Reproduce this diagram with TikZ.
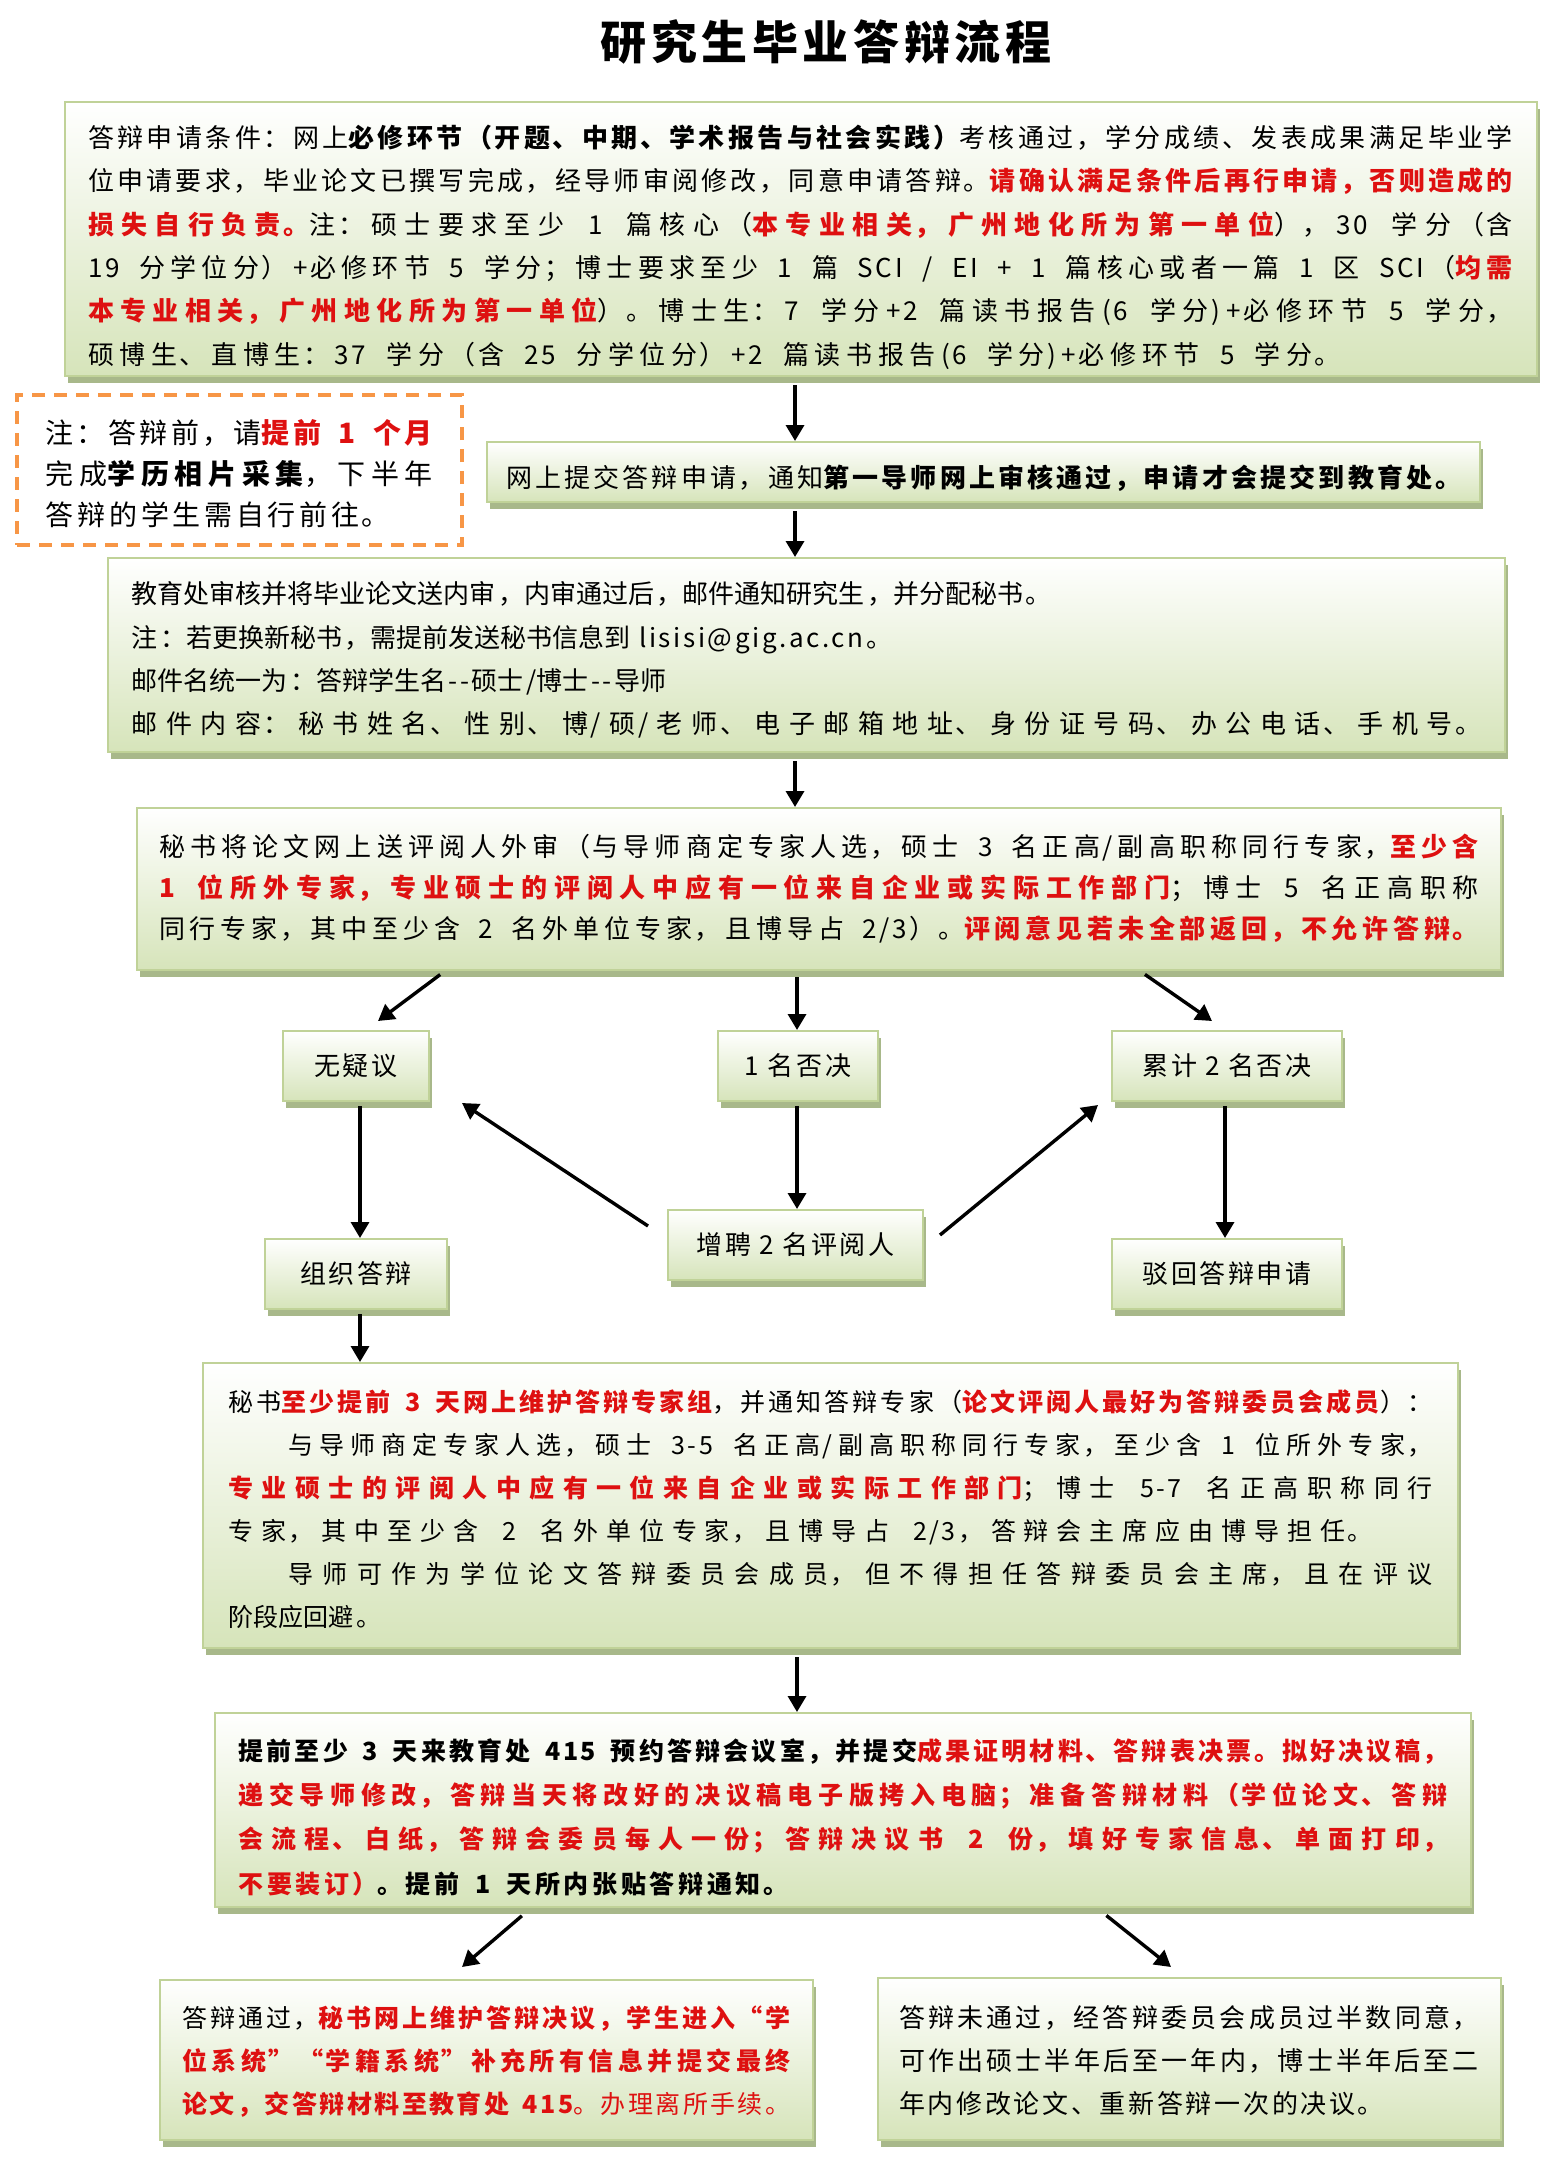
\documentclass[tikz,border=0pt]{standalone}
\usepackage{fontspec}
\setmainfont{Noto Sans CJK SC}[LetterSpace=10]
\usetikzlibrary{arrows.meta,shadows}
\XeTeXlinebreaklocale "zh"
\XeTeXlinebreakskip=0pt plus 1pt
\definecolor{boxgreen}{RGB}{214,228,186}
\definecolor{boxline}{RGB}{192,210,152}
\definecolor{shadowgreen}{RGB}{168,184,138}
\definecolor{myred}{RGB}{222,16,16}
\definecolor{dashorange}{RGB}{247,150,70}
\newcommand\rdb[1]{\textcolor{myred}{\bfseries #1}}
\newcommand\bkb[1]{{\bfseries #1}}
\newcommand\fulljust{\parfillskip=0pt\par}
\begin{document}
\begin{tikzpicture}[x=0.5pt,y=-0.5pt,
  gbox/.style={draw=boxline, line width=1pt, top color=white, bottom color=boxgreen,
    general shadow={fill=shadowgreen, shadow xshift=1.5pt, shadow yshift=-3.5pt},
    inner sep=0pt},
  txt/.style={inner sep=0pt, align=justify},
  sbox/.style={gbox, align=center, minimum height=35pt, font=\fontsize{13pt}{16pt}\selectfont},
  arr/.style={line width=1.7pt, -{Triangle[length=8pt,width=9pt]}}]
\useasboundingbox (0,0) rectangle (1564,2183);

\node[font=\fontsize{23pt}{28pt}\selectfont\bfseries] (title) at (826,42) {研究生毕业答辩流程};

% ---------- box 1
\node[gbox, minimum width=736pt, minimum height=137pt] (b1) at (800.5,239) {};
\node[txt, text width=712.5pt, font=\fontsize{13pt}{21.65pt}\selectfont] (b1t) at (800.5,247) {%
答辩申请条件：网上\bkb{必修环节（开题、中期、学术报告与社会实践）}考核通过，学分成绩、发表成果满足毕业学\linebreak
位申请要求，毕业论文已撰写完成，经导师审阅修改，同意申请答辩。\rdb{请确认满足条件后再行申请，否则造成的}\linebreak
\rdb{损失自行负责。}注：硕士要求至少 1 篇核心（\rdb{本专业相关，广州地化所为第一单位}），30 学分（含\linebreak
19 分学位分）+必修环节 5 学分；博士要求至少 1 篇 SCI / EI + 1 篇核心或者一篇 1 区 SCI（\rdb{均需}\linebreak
\rdb{本专业相关，广州地化所为第一单位}）。博士生：7 学分+2 篇读书报告(6 学分)+必修环节 5 学分，\linebreak
硕博生、直博生：37 学分（含 25 分学位分）+2 篇读书报告(6 学分)+必修环节 5 学分。\hspace*{86pt}\fulljust};

% ---------- note
\node[draw=dashorange, line width=2pt, dash pattern=on 6.5pt off 4.5pt, fill=white,
  minimum width=222.5pt, minimum height=75pt] (note) at (239.5,470) {};
\node[txt, text width=193.5pt, font=\fontsize{14pt}{20.5pt}\selectfont] (notet) at (239.5,474) {%
注：答辩前，请\rdb{提前 1 个月}\linebreak
完成\bkb{学历相片采集}，下半年\linebreak
答辩的学生需自行前往。\hspace*{21.5pt}\fulljust};

% ---------- box 2
\node[gbox, minimum width=496.5pt, minimum height=30pt] (b2) at (983.5,472) {};
\node[txt, text width=477.5pt, font=\fontsize{13pt}{16pt}\selectfont] (b2t) at (983.5,478) {%
网上提交答辩申请，通知\bkb{第一导师网上审核通过，申请才会提交到教育处。}\fulljust};

% ---------- box 3
\node[gbox, minimum width=698.5pt, minimum height=97pt] (b3) at (806.5,655) {};
\node[txt, text width=675pt, font=\fontsize{13pt}{21.65pt}\selectfont] (b3t) at (806.5,660) {%
教育处审核并将毕业论文送内审，内审通过后，邮件通知研究生，并分配秘书。\hspace*{\fill}\linebreak
注：若更换新秘书，需提前发送秘书信息到 lisisi@gig.ac.cn。\hspace*{\fill}\linebreak
邮件名统一为：答辩学生名{-}{-}硕士/博士{-}{-}导师\hspace*{\fill}\linebreak
邮件内容：秘书姓名、性别、博/硕/老师、电子邮箱地址、身份证号码、办公电话、手机号。\fulljust};

% ---------- box 4
\node[gbox, minimum width=682pt, minimum height=81pt] (b4) at (819,889) {};
\node[txt, text width=660pt, font=\fontsize{13pt}{20.5pt}\selectfont] (b4t) at (819,889) {%
秘书将论文网上送评阅人外审（与导师商定专家人选，硕士 3 名正高/副高职称同行专家，\rdb{至少含}\linebreak
\rdb{1 位所外专家，专业硕士的评阅人中应有一位来自企业或实际工作部门}；博士 5 名正高职称\linebreak
同行专家，其中至少含 2 名外单位专家，且博导占 2/3）。\rdb{评阅意见若未全部返回，不允许答辩。}\fulljust};

% ---------- small boxes
\node[sbox, minimum width=73pt] (n1) at (356,1066) {无疑议};
\node[sbox, minimum width=80pt] (n2) at (798,1066) {1 名否决};
\node[sbox, minimum width=115pt] (n3) at (1227,1066) {累计 2 名否决};
\node[sbox, minimum width=91pt] (n4) at (356,1274) {组织答辩};
\node[sbox, minimum width=127.5pt] (n5) at (795.5,1245) {增聘 2 名评阅人};
\node[sbox, minimum width=115pt] (n6) at (1227,1274) {驳回答辩申请};

% ---------- box 5
\node[gbox, minimum width=627.5pt, minimum height=142.5pt] (b5) at (830.5,1505.5) {};
\node[txt, text width=602pt, font=\fontsize{12.5pt}{21.5pt}\selectfont] (b5t) at (830.5,1509.5) {%
秘书\rdb{至少提前 3 天网上维护答辩专家组}，并通知答辩专家（\rdb{论文评阅人最好为答辩委员会成员}）：\linebreak
\hspace*{30pt}与导师商定专家人选，硕士 3-5 名正高/副高职称同行专家，至少含 1 位所外专家，\linebreak
\rdb{专业硕士的评阅人中应有一位来自企业或实际工作部门}；博士 5-7 名正高职称同行\linebreak
专家，其中至少含 2 名外单位专家，且博导占 2/3，答辩会主席应由博导担任。\hspace*{30pt}\linebreak
\hspace*{30pt}导师可作为学位论文答辩委员会成员，但不得担任答辩委员会主席，且在评议\linebreak
阶段应回避。};

% ---------- box 6
\node[gbox, minimum width=628pt, minimum height=97pt] (b6) at (843,1810) {};
\node[txt, text width=604.5pt, font=\fontsize{12.5pt}{22.2pt}\selectfont\bfseries] (b6t) at (843,1817) {%
提前至少 3 天来教育处 415 预约答辩会议室，并提交\textcolor{myred}{成果证明材料、答辩表决票。拟好决议稿，}\linebreak
\textcolor{myred}{递交导师修改，答辩当天将改好的决议稿电子版拷入电脑；准备答辩材料（学位论文、答辩}\linebreak
\textcolor{myred}{会流程、白纸，答辩会委员每人一份；答辩决议书 2 份，填好专家信息、单面打印，}\linebreak
\textcolor{myred}{不要装订）}。提前 1 天所内张贴答辩通知。\hspace*{329.5pt}\fulljust};

% ---------- box 7
\node[gbox, minimum width=326.5pt, minimum height=80pt] (b7) at (486.5,2060) {};
\node[txt, text width=304pt, font=\fontsize{12.5pt}{21.5pt}\selectfont] (b7t) at (486.5,2062) {%
答辩通过，\rdb{秘书网上维护答辩决议，学生进入“学}\linebreak
\rdb{位系统”“学籍系统”补充所有信息并提交最终}\linebreak
\rdb{论文，交答辩材料至教育处 415}\textcolor{myred}{。办理离所手续。}\fulljust};

% ---------- box 8
\node[gbox, minimum width=311.5pt, minimum height=81pt] (b8) at (1189,2059) {};
\node[txt, text width=290pt, font=\fontsize{13pt}{21.5pt}\selectfont] (b8t) at (1189,2061) {%
答辩未通过，经答辩委员会成员过半数同意，\linebreak
可作出硕士半年后至一年内，博士半年后至二\linebreak
年内修改论文、重新答辩一次的决议。\hspace*{47.5pt}\fulljust};

% ---------- connectors
\coordinate (e1) at (378,1021);
\coordinate (e3) at (1212,1021);
\coordinate (s9) at (648,1226);
\coordinate (e9) at (462,1103);
\coordinate (s10) at (940,1235);
\coordinate (e10) at (1098,1105);
\coordinate (e14) at (462,1967);
\coordinate (e15) at (1171,1967);

\draw[arr, shorten <=4pt] (795,0 |- b1.south) -- (795,0 |- b2.north);
\draw[arr, shorten <=4pt] (795,0 |- b2.south) -- (795,0 |- b3.north);
\draw[arr, shorten <=4pt] (795,0 |- b3.south) -- (795,0 |- b4.north);
\draw[arr, shorten <=3pt] (445,0 |- b4.south) -- (e1);
\draw[arr, shorten <=3pt] (797,0 |- b4.south) -- (797,0 |- n2.north);
\draw[arr, shorten <=3pt] (1140,0 |- b4.south) -- (e3);
\draw[arr, shorten <=2pt] (360,0 |- n1.south) -- (360,0 |- n4.north);
\draw[arr, shorten <=2pt] (797,0 |- n2.south) -- (797,0 |- n5.north);
\draw[arr] (s9) -- (e9);
\draw[arr] (s10) -- (e10);
\draw[arr, shorten <=2pt] (1225,0 |- n3.south) -- (1225,0 |- n6.north);
\draw[arr, shorten <=2pt] (360,0 |- n4.south) -- (360,0 |- b5.north);
\draw[arr, shorten <=4pt] (797,0 |- b5.south) -- (797,0 |- b6.north);
\draw[arr, shorten <=6pt] (531,0 |- b6.south) -- (e14);
\draw[arr, shorten <=6pt] (1097,0 |- b6.south) -- (e15);
\end{tikzpicture}
\end{document}
